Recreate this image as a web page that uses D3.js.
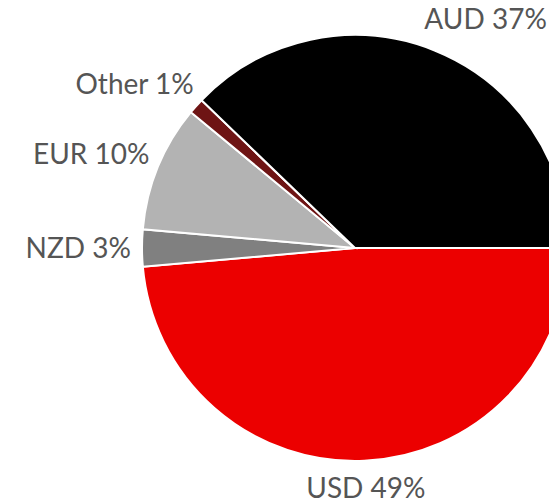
<!DOCTYPE html>
<html>
<head>
<meta charset="utf-8">
<script src="https://cdn.jsdelivr.net/npm/d3@7"></script>
<style>
  html, body { margin: 0; padding: 0; background: #fff; overflow: hidden; }
  svg { display: block; }
</style>
</head>
<body>
<script>
// Data
const categories = ["USD", "NZD", "EUR", "Other", "AUD"];
const values = [48.6, 2.8, 9.6, 1.2, 37.8];
const labelPercents = ["49%", "3%", "10%", "1%", "37%"];
const colors = ["#ec0000", "#808080", "#b3b3b3", "#6e1414", "#000000"];

const W = 549, H = 504;
const cx = 355, cy = 248, r = 213;
const labelR = 247;
const fontSize = 28;
const capHalf = 10;

const svg = d3.select("body").append("svg")
  .attr("width", W).attr("height", H);

const g = svg.append("g").attr("transform", `translate(${cx},${cy})`);

const data = categories.map((c, i) => ({ cat: c, value: values[i], pct: labelPercents[i], color: colors[i] }));

const pie = d3.pie()
  .sort(null)
  .value(d => d.value)
  .startAngle(Math.PI / 2)
  .endAngle(Math.PI / 2 + 2 * Math.PI);

const arc = d3.arc().innerRadius(0).outerRadius(r);
const arcs = pie(data);

g.selectAll("path.slice")
  .data(arcs)
  .join("path")
  .attr("class", "slice")
  .attr("d", arc)
  .attr("fill", d => d.data.color)
  .attr("stroke", "#fff")
  .attr("stroke-width", 2)
  .attr("stroke-linejoin", "miter");

g.selectAll("text.label")
  .data(arcs)
  .join("text")
  .attr("class", "label")
  .each(function(d) {
    const a = (d.startAngle + d.endAngle) / 2;
    const s = Math.sin(a), c = Math.cos(a);
    let x = labelR * s;
    let baseline = -labelR * c + capHalf;
    // keep labels inside the canvas vertically
    const maxBaseline = (H - 6) - cy;
    if (baseline > maxBaseline) baseline = maxBaseline;
    let anchor = "middle";
    if (s < -0.2) { anchor = "end"; x += 23; }
    else if (s > 0.2) { anchor = "start"; x -= 23; }
    d3.select(this)
      .attr("x", x).attr("y", baseline)
      .attr("text-anchor", anchor);
  })
  .attr("font-family", "Lato, 'Source Sans Pro', sans-serif")
  .attr("font-size", fontSize)
  .attr("fill", "#555")
  .text(d => `${d.data.cat} ${d.data.pct}`);
</script>
</body>
</html>
